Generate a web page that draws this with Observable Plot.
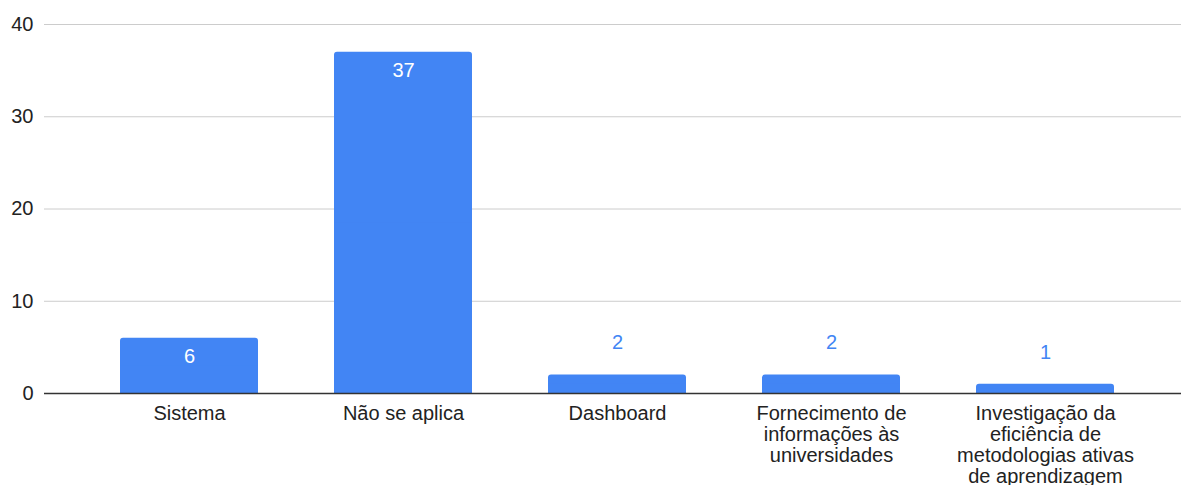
<!DOCTYPE html>
<html>
<head>
<meta charset="utf-8">
<script src="https://cdn.jsdelivr.net/npm/d3@7"></script>
<script src="https://cdn.jsdelivr.net/npm/@observablehq/plot@0.6"></script>
<style>
  html, body { margin: 0; padding: 0; background: #fff; }
  #chart svg { display: block; font-family: "Liberation Sans", Arial, sans-serif; }
</style>
</head>
<body>
<div id="chart"></div>
<script>
const categories = [
  "Sistema",
  "Não se aplica",
  "Dashboard",
  "Fornecimento de\ninformações às\nuniversidades",
  "Investigação da\neficiência de\nmetodologias ativas\nde aprendizagem"
];
const values = [6, 37, 2, 2, 1];
const yTicks = [0, 10, 20, 30, 40];
const insideThreshold = 4;

const data = categories.map((c, i) => ({category: c, value: values[i]}));
const blue = "#4285f4";
const font = "'Liberation Sans', Arial, sans-serif";

const chart = Plot.plot({
  width: 1181,
  height: 485,
  marginTop: 24,
  marginBottom: 92,
  marginLeft: 44,
  marginRight: 0,
  style: {fontFamily: font, background: "#fff"},
  x: {domain: categories, range: [55, 1178], paddingInner: 0.356, paddingOuter: 0.3, axis: null},
  y: {domain: [0, 40], ticks: yTicks, axis: null},
  marks: [
    Plot.ruleY(yTicks.filter(t => t !== 0), {stroke: "#cccccc", strokeWidth: 1}),
    Plot.axisY({ticks: yTicks, tickSize: 0, tickPadding: 11, fontSize: 20, color: "#222", anchor: "left", label: null}),
    Plot.barY(data, {x: "category", y: "value", fill: blue, rx: 3}),
    Plot.barY(data, {x: "category", y1: 0, y2: d => d.value / 2, fill: blue}),
    Plot.ruleY([0], {stroke: "#333", strokeWidth: 1.5}),
    Plot.text(data.filter(d => d.value >= insideThreshold), {
      x: "category", y: "value", text: d => String(d.value),
      dy: 18, fill: "#fff", fontSize: 20
    }),
    Plot.text(data.filter(d => d.value < insideThreshold), {
      x: "category", y: "value", text: d => String(d.value),
      dy: -32, fill: blue, fontSize: 20
    }),
    Plot.text(data, {
      x: "category", y: () => 0, text: "category",
      dy: 12, lineAnchor: "top", lineHeight: 1.04, fontSize: 20, fill: "#222"
    })
  ]
});
document.getElementById("chart").appendChild(chart);
</script>
</body>
</html>
